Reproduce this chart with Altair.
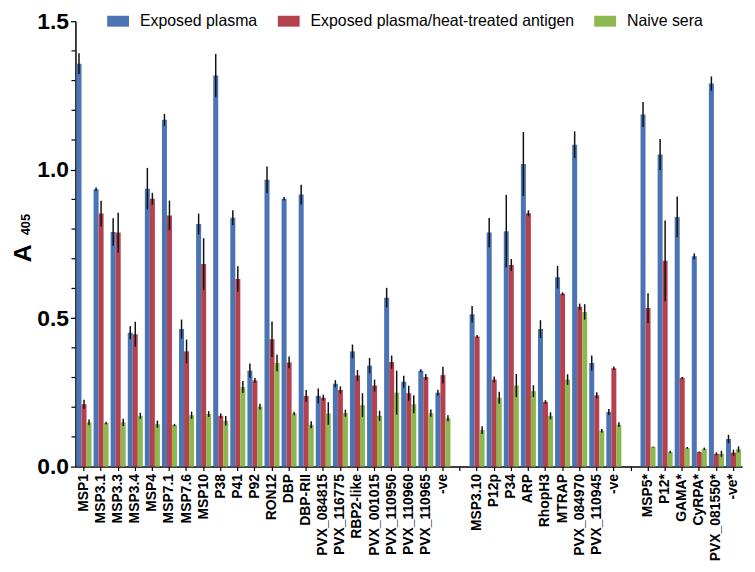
import altair as alt
import pandas as pd

categories = ["MSP1", "MSP3.1", "MSP3.3", "MSP3.4", "MSP4", "MSP7.1", "MSP7.6", "MSP10",
              "P38", "P41", "P92", "RON12", "DBP", "DBP-RII", "PVX_084815", "PVX_116775",
              "RBP2-like", "PVX_001015", "PVX_110950", "PVX_110960", "PVX_110965", "-ve",
              " ",
              "MSP3.10", "P12p", "P34", "ARP", "RhopH3", "MTRAP", "PVX_084970", "PVX_110945", "-ve ",
              "  ",
              "MSP5*", "P12*", "GAMA*", "CyRPA*", "PVX_081550*", "-ve*"]

series = ["Exposed plasma", "Exposed plasma/heat-treated antigen", "Naive sera"]
colors = ["#4a74b4", "#b5414f", "#8db84e"]

y_major = [0.0, 0.5, 1.0, 1.5]
y_minor = [0.1, 0.2, 0.3, 0.4, 0.6, 0.7, 0.8, 0.9, 1.1, 1.2, 1.3, 1.4]

exposed = [1.357, 0.934, 0.790, 0.451, 0.936, 1.168, 0.463, 0.817,
           1.317, 0.838, 0.323, 0.966, 0.902, 0.916, 0.238, 0.279,
           0.388, 0.340, 0.569, 0.286, 0.323, 0.249,
           None,
           0.513, 0.788, 0.793, 1.019, 0.463, 0.638, 1.084, 0.349, 0.184,
           None,
           1.186, 1.051, 0.841, 0.708, 1.290, 0.093]
exposed_err = [0.035, 0.006, 0.046, 0.022, 0.070, 0.020, 0.032, 0.035,
               0.073, 0.025, 0.024, 0.045, 0.006, 0.033, 0.025, 0.012,
               0.023, 0.026, 0.033, 0.020, 0.005, 0.010,
               None,
               0.028, 0.049, 0.122, 0.108, 0.030, 0.038, 0.045, 0.025, 0.010,
               None,
               0.042, 0.052, 0.069, 0.010, 0.024, 0.014]

heat = [0.210, 0.852, 0.788, 0.446, 0.902, 0.846, 0.388, 0.682,
        0.171, 0.632, 0.290, 0.429, 0.351, 0.238, 0.232, 0.258,
        0.307, 0.273, 0.352, 0.247, 0.302, 0.308,
        None,
        0.438, 0.293, 0.679, 0.853, 0.218, 0.582, 0.538, 0.240, 0.331,
        None,
        0.534, 0.693, 0.299, 0.049, 0.043, 0.047]
heat_err = [0.015, 0.043, 0.067, 0.042, 0.020, 0.050, 0.040, 0.087,
            0.008, 0.043, 0.008, 0.060, 0.020, 0.020, 0.010, 0.012,
            0.018, 0.020, 0.022, 0.025, 0.010, 0.028,
            None,
            0.005, 0.010, 0.020, 0.010, 0.006, 0.005, 0.011, 0.010, 0.006,
            None,
            0.050, 0.136, 0.003, 0.002, 0.005, 0.010]

naive = [0.149, 0.147, 0.149, 0.171, 0.143, 0.140, 0.173, 0.177,
         0.154, 0.268, 0.202, 0.349, 0.179, 0.141, 0.179, 0.180,
         0.207, 0.171, 0.249, 0.210, 0.180, 0.163,
         None,
         0.123, 0.232, 0.273, 0.254, 0.171, 0.293, 0.521, 0.121, 0.141,
         None,
         0.066, 0.049, 0.063, 0.060, 0.043, 0.058]
naive_err = [0.010, 0.004, 0.012, 0.010, 0.012, 0.004, 0.012, 0.010,
             0.016, 0.020, 0.010, 0.028, 0.006, 0.012, 0.038, 0.012,
             0.040, 0.017, 0.074, 0.030, 0.012, 0.010,
             None,
             0.013, 0.020, 0.039, 0.020, 0.012, 0.018, 0.026, 0.006, 0.008,
             None,
             0.002, 0.004, 0.003, 0.004, 0.010, 0.010]

rows = []
for s, vals, errs in zip(series, [exposed, heat, naive], [exposed_err, heat_err, naive_err]):
    for c, v, e in zip(categories, vals, errs):
        if v is None:
            continue
        rows.append({"antigen": c, "series": s, "value": v, "lo": v - e, "hi": v + e})
df = pd.DataFrame(rows)

W, H = 672, 449

x_enc = alt.X("antigen:N", sort=categories,
              scale=alt.Scale(domain=categories, paddingInner=0.12, paddingOuter=0.06),
              axis=alt.Axis(title=None, labelAngle=270, labelFontSize=14, labelFontWeight="bold",
                            labelFont="Liberation Sans", labelColor="black", labelPadding=3,
                            tickSize=4, tickColor="black", tickWidth=1.2,
                            domainColor="black", domainWidth=1.5, labelOverlap=False))
y_scale = alt.Scale(domain=[0, 1.5], nice=False, zero=True)
y_axis = alt.Axis(title=None, values=y_major, format=".1f",
                  labelOverlap=False, labelBound=False, labelFlush=False,
                  labelFontSize=23, labelFontWeight="bold", labelFont="Liberation Sans",
                  labelColor="black", labelPadding=2, tickSize=5, tickColor="black",
                  tickWidth=1.2, domainColor="black", domainWidth=1.5, grid=False)
xoff = alt.XOffset("series:N", sort=series, scale=alt.Scale(paddingInner=0, paddingOuter=0))

bars = alt.Chart(df).mark_bar().encode(
    x=x_enc,
    xOffset=xoff,
    y=alt.Y("value:Q", scale=y_scale, axis=y_axis),
    color=alt.Color("series:N", sort=series,
                    scale=alt.Scale(domain=series, range=colors),
                    legend=alt.Legend(title=None, orient="none", direction="horizontal",
                                      legendX=32, legendY=-11,
                                      symbolType="M-1,-0.5H1V0.5H-1Z", symbolSize=484,
                                      symbolStrokeWidth=0, labelFontSize=16,
                                      labelFont="Liberation Sans", labelColor="black",
                                      labelOffset=11, columnPadding=20, labelLimit=400)),
)

errs = alt.Chart(df).mark_rule(color="#111111", strokeWidth=1.5).encode(
    x=alt.X("antigen:N", sort=categories),
    xOffset=alt.XOffset("series:N", sort=series),
    y=alt.Y("lo:Q", axis=y_axis),
    y2="hi:Q",
)

minor = alt.Chart(pd.DataFrame({"v": y_minor})).mark_rule(color="black", strokeWidth=1.2).encode(
    y=alt.Y("v:Q", axis=y_axis),
    x=alt.value(-4),
    x2=alt.value(0),
)

title_a = alt.Chart(pd.DataFrame({"t": ["A"]})).mark_text(
    angle=270, fontSize=25, fontWeight="bold", font="Liberation Sans", color="black",
    align="center", baseline="middle"
).encode(text="t:N", x=alt.value(-53), y=alt.value(234))

title_sub = alt.Chart(pd.DataFrame({"t": ["405"]})).mark_text(
    angle=270, fontSize=13, fontWeight="bold", font="Liberation Sans", color="black",
    align="center", baseline="middle"
).encode(text="t:N", x=alt.value(-50), y=alt.value(205))

chart = alt.layer(bars, errs, minor, title_a, title_sub).properties(
    width=W, height=H,
    autosize=alt.AutoSizeParams(type="none"),
    padding={"left": 68, "top": 11, "right": 5, "bottom": 110},
).configure_view(stroke=None).configure_axis(grid=False)

chart.save("out.html", embed_options={"renderer": "svg", "actions": False})
